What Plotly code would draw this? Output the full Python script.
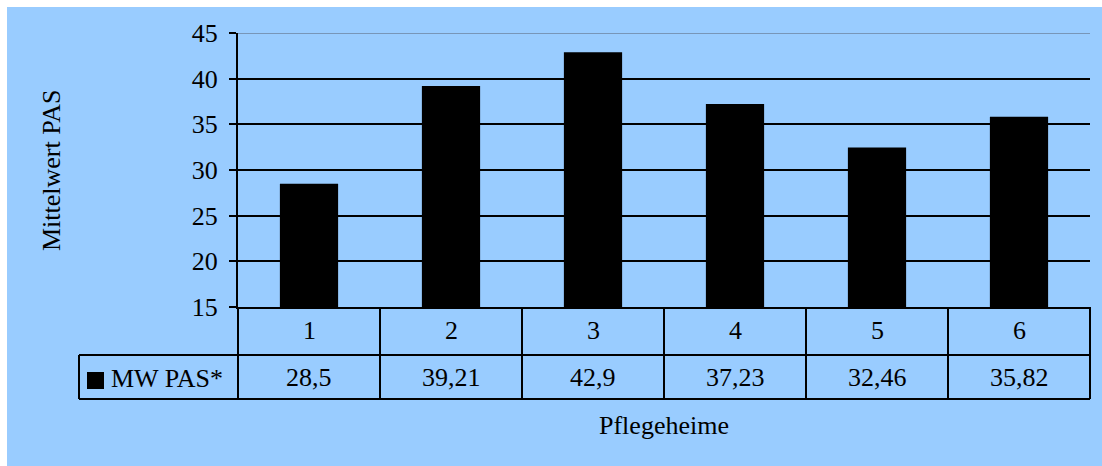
import plotly.graph_objects as go

# Pflegeheime and their mean PAS scores
categories = ["1", "2", "3", "4", "5", "6"]
mw_pas = [28.5, 39.21, 42.9, 37.23, 32.46, 35.82]
series_name = "MW PAS*"
y_ticks = [15, 20, 25, 30, 35, 40, 45]

W, H = 1102, 466
L, R, T, B = 238, 12, 33, 159
PW, PH = W - L - R, H - T - B

FONT = "Liberation Serif, Times New Roman, serif"
BG = "#99CCFF"
FS = 26


def px_x(px):
    return (px - L) / PW


def px_y(py):
    return (H - B - py) / PH


def fmt(v):
    return f"{v:g}".replace(".", ",")


fig = go.Figure(
    go.Bar(
        x=categories,
        y=mw_pas,
        marker=dict(color="black", line=dict(width=0)),
        name=series_name,
        showlegend=False,
    )
)

shapes = []
annotations = []

# outer chart area (thin white border top/left)
shapes.append(dict(type="rect", xref="paper", yref="paper",
                   x0=px_x(7), x1=px_x(W + 5), y0=px_y(H + 5), y1=px_y(7),
                   fillcolor=BG, line=dict(width=0), layer="below"))

# top boundary line of the plot area
shapes.append(dict(type="line", xref="paper", yref="y", x0=0, x1=1,
                   y0=y_ticks[-1], y1=y_ticks[-1],
                   line=dict(color="#7896B8", width=2)))

# data table rows
row1_bot = px_y(355)
row2_bot = px_y(399)
leg_left = px_x(79)
line_style = dict(color="black", width=2)
shapes.append(dict(type="line", xref="paper", yref="paper", x0=leg_left, x1=1,
                   y0=row1_bot, y1=row1_bot, line=line_style))
shapes.append(dict(type="line", xref="paper", yref="paper", x0=leg_left, x1=1,
                   y0=row2_bot, y1=row2_bot, line=line_style))
shapes.append(dict(type="line", xref="paper", yref="paper", x0=leg_left, x1=leg_left,
                   y0=row1_bot, y1=row2_bot, line=line_style))
shapes.append(dict(type="line", xref="paper", yref="paper", x0=0, x1=0,
                   y0=0, y1=row2_bot, line=line_style))
shapes.append(dict(type="line", xref="paper", yref="paper", x0=1, x1=1,
                   y0=0, y1=row2_bot, line=line_style))
for i in range(len(categories) - 1):
    shapes.append(dict(type="line", xref="x", yref="paper", x0=i + 0.5, x1=i + 0.5,
                       y0=0, y1=row2_bot, line=line_style))

# table text: categories and values (category axis positions are indices)
for i, (c, v) in enumerate(zip(categories, mw_pas)):
    annotations.append(dict(x=i, y=px_y(331), xref="x", yref="paper", text=c,
                            showarrow=False, font=dict(family=FONT, size=FS, color="black"),
                            xanchor="center", yanchor="middle"))
    annotations.append(dict(x=i, y=px_y(377), xref="x", yref="paper", text=fmt(v),
                            showarrow=False, font=dict(family=FONT, size=FS, color="black"),
                            xanchor="center", yanchor="middle"))

# legend key in the table
shapes.append(dict(type="rect", xref="paper", yref="paper",
                   x0=px_x(87), x1=px_x(104), y0=px_y(389), y1=px_y(372),
                   fillcolor="black", line=dict(width=0)))
annotations.append(dict(x=px_x(109), y=px_y(378), xref="paper", yref="paper",
                        text=series_name, showarrow=False,
                        font=dict(family=FONT, size=FS, color="black"),
                        xanchor="left", yanchor="middle"))

# axis titles
annotations.append(dict(x=0.5, y=px_y(425), xref="paper", yref="paper",
                        text="Pflegeheime", showarrow=False,
                        font=dict(family=FONT, size=FS, color="black"),
                        xanchor="center", yanchor="middle"))
annotations.append(dict(x=px_x(51), y=0.5, xref="paper", yref="paper",
                        text="Mittelwert PAS", showarrow=False, textangle=-90,
                        font=dict(family=FONT, size=FS, color="black"),
                        xanchor="center", yanchor="middle"))

fig.update_layout(
    width=W, height=H,
    margin=dict(l=L, r=R, t=T, b=B, pad=0),
    paper_bgcolor="white",
    plot_bgcolor=BG,
    bargap=0.59,
    shapes=shapes,
    annotations=annotations,
    font=dict(family=FONT, size=FS, color="black"),
)
fig.update_xaxes(
    type="category", range=[-0.5, len(categories) - 0.5],
    showticklabels=False, ticks="", showgrid=False,
    showline=True, linecolor="black", linewidth=2, zeroline=False,
)
fig.update_yaxes(
    range=[y_ticks[0], y_ticks[-1]], tickvals=y_ticks,
    showgrid=True, gridcolor="black", gridwidth=2,
    showline=True, linecolor="black", linewidth=2,
    ticks="outside", ticklen=7, tickwidth=2, tickcolor="black",
    tickfont=dict(family=FONT, size=FS, color="black"),
    ticklabelstandoff=6, zeroline=False,
)

fig.write_html("out.html")
